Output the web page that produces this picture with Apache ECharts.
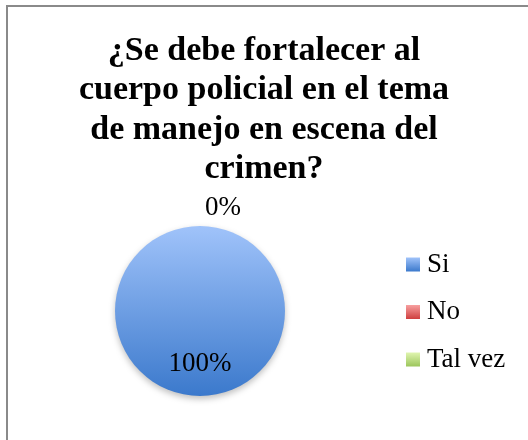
<!DOCTYPE html>
<html>
<head>
<meta charset="utf-8">
<script src="https://cdn.jsdelivr.net/npm/echarts@6/dist/echarts.min.js"></script>
<style>
  html, body { margin: 0; padding: 0; background: #fff; }
  #chart { width: 528px; height: 440px; }
</style>
</head>
<body>
<div id="chart"></div>
<script>
// Data
const categories = ['Si', 'No', 'Tal vez'];
const values = [100, 0, 0];
const percentLabels = ['100%', '0%', '0%'];
const titleText = '¿Se debe fortalecer al\ncuerpo policial en el tema\nde manejo en escena del\ncrimen?';

// Colours (top -> bottom gradients like the Office style)
const colorTops = ['#a0c3fa', '#f7a0a0', '#e0f5b0'];
const colorBottoms = ['#3b79cc', '#cf3f3f', '#9cc65c'];

const grad = (i) => new echarts.graphic.LinearGradient(0, 0, 0, 1, [
    { offset: 0, color: colorTops[i] },
    { offset: 1, color: colorBottoms[i] }
]);

const labelFont = { fontFamily: 'Liberation Serif', fontSize: 27, color: '#000' };

const chart = echarts.init(document.getElementById('chart'));

const option = {
    backgroundColor: '#fff',
    animation: false,
    title: {
        text: titleText,
        left: 'center',
        top: 26,
        textStyle: {
            fontFamily: 'Liberation Serif',
            fontWeight: 'bold',
            fontSize: 34,
            lineHeight: 39.5,
            color: '#000'
        }
    },
    legend: {
        orient: 'vertical',
        left: 401,
        top: 246,
        itemWidth: 14,
        itemHeight: 14,
        itemGap: 20.5,
        icon: 'rect',
        textStyle: Object.assign({ lineHeight: 27, padding: [0, 0, 0, 2] }, labelFont),
        data: categories
    },
    graphic: [{
        type: 'rect',
        shape: { x: 7, y: 6, width: 560, height: 470 },
        style: { fill: 'none', stroke: '#8a8a8a', lineWidth: 2 },
        silent: true
    }],
    series: [{
        type: 'pie',
        center: [200, 311],
        radius: 85,
        startAngle: 90,
        avoidLabelOverlap: false,
        itemStyle: {
            shadowBlur: 6,
            shadowOffsetY: 3,
            shadowColor: 'rgba(0,0,0,0.25)'
        },
        label: labelFont,
        labelLine: { show: false, length: 18, length2: 0 },
        data: categories.map((c, i) => ({
            name: c,
            value: values[i],
            itemStyle: { color: grad(i) },
            label: Object.assign(
                i === 0
                    ? { show: true, position: 'inside', offset: [0, 7], formatter: percentLabels[i] }
                    : { show: true, position: 'outside', formatter: percentLabels[i] },
                labelFont)
        }))
    }]
};

chart.setOption(option);
</script>
</body>
</html>
